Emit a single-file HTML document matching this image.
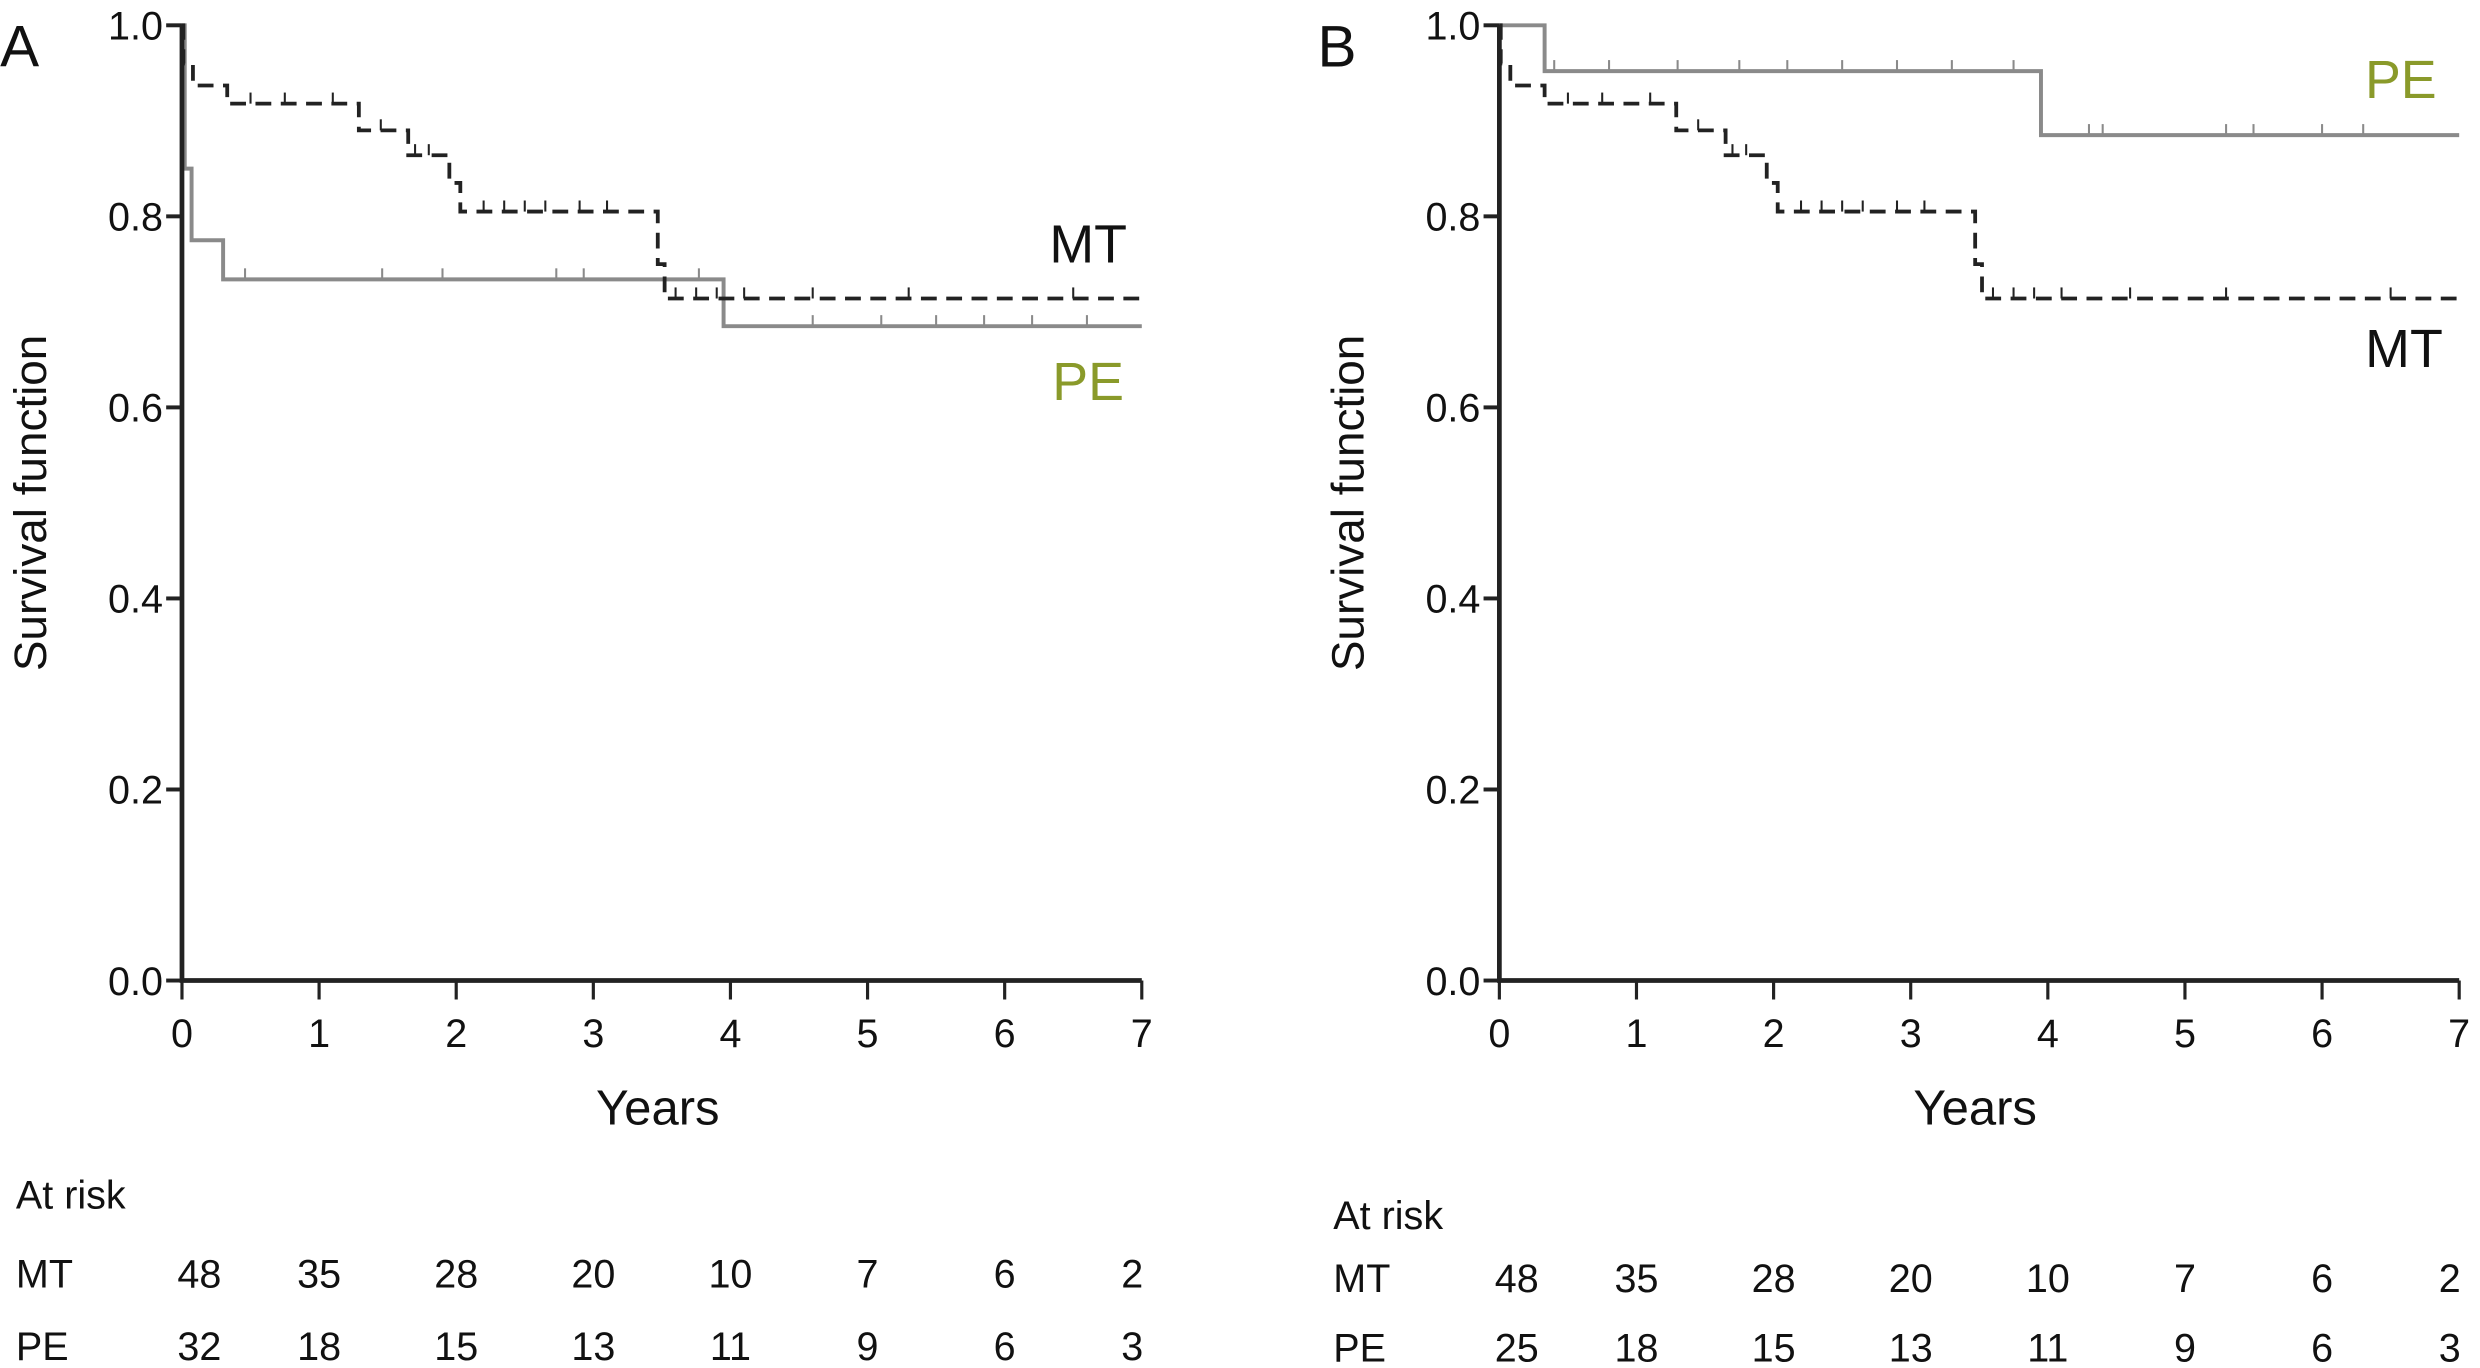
<!DOCTYPE html>
<html><head><meta charset="utf-8"><style>
html,body{margin:0;padding:0;background:#fff;}
svg{display:block;}
text{font-family:"Liberation Sans",sans-serif;fill:#111;}
</style></head><body>
<svg id="chart" width="2480" height="1368" viewBox="0 0 1568 865" xmlns="http://www.w3.org/2000/svg"></svg>
<script>
const years = [0,1,2,3,4,5,6,7];
const yTicks = [0.0,0.2,0.4,0.6,0.8,1.0];
const yTickLabels = ["0.0","0.2","0.4","0.6","0.8","1.0"];
// MT step curve (same in both panels)
const mtTimes = [0, 0.01, 0.08, 0.33, 1.29, 1.65, 1.95, 2.03, 3.47, 3.52];
const mtSurv  = [1.0, 0.96, 0.937, 0.918, 0.89, 0.864, 0.835, 0.805, 0.75, 0.714];
const mtCensor = [0.5,0.75,1.1,1.45,1.7,1.8,2.2,2.35,2.5,2.65,2.9,3.1,3.6,3.75,3.9,4.1,4.6,5.3,6.5];
// PE panel A
const peATimes = [0, 0.02, 0.07, 0.3, 3.95];
const peASurv  = [1.0, 0.85, 0.775, 0.734, 0.685];
const peACensor = [0.46,1.46,1.9,2.73,2.93,3.77,4.6,5.1,5.5,5.85,6.2,6.6];
// PE panel B
const peBTimes = [0, 0.33, 3.95];
const peBSurv  = [1.0, 0.952, 0.885];
const peBCensor = [0.4,0.8,1.3,1.75,2.1,2.5,2.9,3.3,3.75,4.3,4.4,5.3,5.5,6.0,6.3];
const riskA_MT = [48,35,28,20,10,7,6,2];
const riskA_PE = [32,18,15,13,11,9,6,3];
const riskB_MT = [48,35,28,20,10,7,6,2];
const riskB_PE = [25,18,15,13,11,9,6,3];

const NS="http://www.w3.org/2000/svg";
const svg=document.getElementById('chart');
function el(tag,attrs,parent){const e=document.createElementNS(NS,tag);for(const k in attrs)e.setAttribute(k,attrs[k]);(parent||svg).appendChild(e);return e;}

function panel(cfg){
  const g=el('g',{});
  
  
  const x0=cfg.x0, xw=86.7, yTop=16, yBot=620;
  const X=t=>x0+t*xw, Y=v=>yBot-(v)*(yBot-yTop);
  const L=el('text',{x:cfg.letterX,y:42,'font-size':37},g);L.textContent=cfg.letter;
  
  
  function curve(times,surv,cens,stroke,dash,w,name){
    let d=`M${X(times[0])},${Y(surv[0])}`;
    for(let i=1;i<times.length;i++){d+=` H${X(times[i])} V${Y(surv[i])}`;}
    d+=` H${X(7)}`;
    const p=el('path',{d:d,fill:'none',stroke:stroke,'stroke-width':w,'stroke-dasharray':dash},g);
    
    
    cens.forEach(t=>{let s=surv[0];for(let i=0;i<times.length;i++)if(times[i]<=t)s=surv[i];
      const c=el('line',{x1:X(t),x2:X(t),y1:Y(s)-7,y2:Y(s),stroke:stroke,'stroke-width':1.3},g);
      
      });
  }
  curve(cfg.peT,cfg.peS,cfg.peC,'#8a8a8a','',2.5,'pe-curve');
  curve(mtTimes,mtSurv,mtCensor,'#222','10,6',2.4,'mt-curve');
  const ax=el('path',{d:`M${x0},${yTop} V${yBot} H${X(7)}`,fill:'none',stroke:'#222','stroke-width':3},g);
  
  
  yTicks.forEach((v,i)=>{
    el('line',{x1:x0-10,x2:x0,y1:Y(v),y2:Y(v),stroke:'#222','stroke-width':2.5},g);
    const t=el('text',{x:x0-12,y:Y(v)+9,'font-size':25,'text-anchor':'end'},g);t.textContent=yTickLabels[i];
    
    
  });
  years.forEach(yr=>{
    el('line',{x1:X(yr),x2:X(yr),y1:yBot,y2:yBot+12,stroke:'#222','stroke-width':2},g);
    const t=el('text',{x:X(yr),y:yBot+42,'font-size':25,'text-anchor':'middle'},g);t.textContent=yr;
    
    
  });
  const yt=el('text',{x:0,y:0,'font-size':29,'text-anchor':'middle',transform:`translate(${x0-86},${318}) rotate(-90)`},g);yt.textContent='Survival function';
  
  
  const xt=el('text',{x:X(3.47),y:711,'font-size':31,'text-anchor':'middle'},g);xt.textContent='Years';
  
  
  const m=el('text',{x:cfg.mtLab[0],y:cfg.mtLab[1],'font-size':34,'text-anchor':'middle'},g);m.textContent='MT';
  
  
  const p=el('text',{x:cfg.peLab[0],y:cfg.peLab[1],'font-size':34,'text-anchor':'middle',style:'fill:#8a9a2a'},g);p.textContent='PE';
  
  
  const ar=el('text',{x:cfg.x0-105,y:cfg.riskY[0],'font-size':25},g);ar.textContent='At risk';
  
  
  [['MT',cfg.rMT,cfg.riskY[1]],['PE',cfg.rPE,cfg.riskY[2]]].forEach(([lab,arr,yy])=>{
    const l=el('text',{x:cfg.x0-105,y:yy,'font-size':25},g);l.textContent=lab;
    
    
    arr.forEach((v,i)=>{
      let xx=X(years[i]); if(i===0)xx+=11; if(i===7)xx-=6;
      const t=el('text',{x:xx,y:yy,'font-size':25,'text-anchor':'middle'},g);t.textContent=v;
      
      
    });
  });
}
panel({name:'panel-a',letter:'A',letterX:0,x0:115,peT:peATimes,peS:peASurv,peC:peACensor,mtLab:[688,166],peLab:[688,253],rMT:riskA_MT,rPE:riskA_PE,riskY:[764,814,860]});
panel({name:'panel-b',letter:'B',letterX:833,x0:948,peT:peBTimes,peS:peBSurv,peC:peBCensor,mtLab:[1520,232],peLab:[1518,62],rMT:riskB_MT,rPE:riskB_PE,riskY:[777,817,861]});
</script>
</body></html>
